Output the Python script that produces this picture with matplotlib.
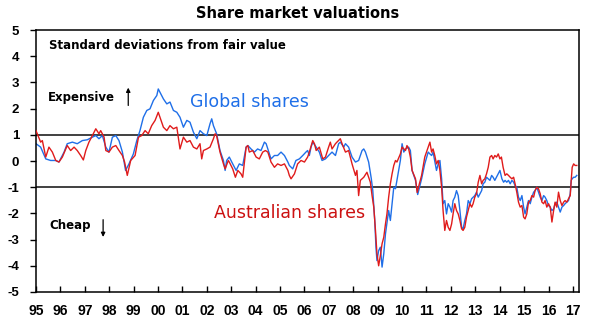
import numpy as np
import matplotlib
matplotlib.use("Agg")
import matplotlib.pyplot as plt

# valuation readings (std devs from fair value), decimal year vs value
global_years = [
    1995.00, 1995.19, 1995.40, 1995.60, 1995.81, 1995.94, 1996.15, 1996.28, 1996.49, 1996.69,
    1996.90, 1997.10, 1997.31, 1997.45, 1997.58, 1997.72, 1997.86, 1997.99, 1998.13, 1998.27,
    1998.40, 1998.54, 1998.67, 1998.81, 1998.99, 1999.13, 1999.26, 1999.40, 1999.54, 1999.67,
    1999.81, 1999.95, 2000.01, 2000.15, 2000.22, 2000.36, 2000.49, 2000.63, 2000.77, 2000.90,
    2001.04, 2001.18, 2001.31, 2001.45, 2001.59, 2001.72, 2001.86, 2002.00, 2002.13, 2002.20,
    2002.27, 2002.40, 2002.54, 2002.68, 2002.75, 2002.81, 2002.92, 2003.06, 2003.20, 2003.33,
    2003.47, 2003.61, 2003.68, 2003.81, 2003.95, 2004.08, 2004.22, 2004.36, 2004.43, 2004.50,
    2004.63, 2004.77, 2004.90, 2005.04, 2005.18, 2005.32, 2005.38, 2005.52, 2005.65, 2005.79,
    2005.93, 2006.06, 2006.13, 2006.20, 2006.27, 2006.34, 2006.48, 2006.61, 2006.72, 2006.86,
    2006.99, 2007.13, 2007.27, 2007.40, 2007.47, 2007.61, 2007.68, 2007.81, 2007.95, 2008.09,
    2008.22, 2008.36, 2008.43, 2008.50, 2008.63, 2008.74, 2008.80, 2008.88, 2008.93, 2008.97,
    2009.04, 2009.11, 2009.18, 2009.25, 2009.32, 2009.45, 2009.52, 2009.59, 2009.66, 2009.73,
    2009.79, 2009.86, 2009.93, 2010.00, 2010.07, 2010.14, 2010.27, 2010.34, 2010.41, 2010.55,
    2010.64, 2010.70, 2010.80, 2010.93, 2011.07, 2011.14, 2011.21, 2011.27, 2011.41, 2011.48,
    2011.55, 2011.62, 2011.68, 2011.75, 2011.82, 2011.89, 2011.96, 2012.03, 2012.09, 2012.16,
    2012.23, 2012.30, 2012.37, 2012.44, 2012.50, 2012.57, 2012.64, 2012.71, 2012.78, 2012.85,
    2012.98, 2013.05, 2013.12, 2013.26, 2013.32, 2013.39, 2013.46, 2013.53, 2013.60, 2013.67,
    2013.73, 2013.80, 2013.94, 2014.01, 2014.09, 2014.16, 2014.22, 2014.29, 2014.36, 2014.43,
    2014.50, 2014.57, 2014.63, 2014.70, 2014.77, 2014.84, 2014.91, 2014.98, 2015.04, 2015.11,
    2015.18, 2015.25, 2015.32, 2015.39, 2015.45, 2015.52, 2015.59, 2015.66, 2015.73, 2015.80,
    2015.86, 2015.93, 2016.00, 2016.07, 2016.14, 2016.21, 2016.27, 2016.34, 2016.41, 2016.48,
    2016.55, 2016.62, 2016.68, 2016.75, 2016.82, 2016.89, 2016.93, 2016.97, 2017.03, 2017.09,
    2017.16,
]
global_vals = [
    0.66, 0.53, 0.08, 0.02, 0.02, -0.04, 0.34, 0.66, 0.72, 0.66,
    0.78, 0.81, 0.91, 0.97, 0.85, 0.97, 0.53, 0.34, 0.91, 0.97,
    0.78, 0.34, -0.36, -0.11, 0.27, 0.78, 1.16, 1.67, 1.93, 1.99,
    2.31, 2.50, 2.75, 2.50, 2.37, 2.18, 2.25, 1.93, 1.86, 1.67,
    1.29, 1.55, 1.48, 1.10, 0.85, 1.16, 1.04, 0.97, 1.42, 1.61,
    1.35, 1.04, 0.40, 0.02, -0.36, 0.02, 0.15, -0.11, -0.36, -0.11,
    -0.17, 0.53, 0.59, 0.46, 0.34, 0.46, 0.40, 0.72, 0.66, 0.46,
    0.08, 0.21, 0.21, 0.34, 0.21, -0.04, -0.17, -0.30, 0.02, 0.08,
    0.21, 0.34, 0.40, 0.21, 0.53, 0.72, 0.53, 0.34, 0.02, 0.08,
    0.21, 0.34, 0.21, 0.66, 0.72, 0.53, 0.66, 0.53, 0.15, -0.04,
    0.02, 0.40, 0.46, 0.34, -0.04, -0.68, -1.13, -2.27, -3.29, -3.80,
    -3.42, -3.29, -4.05, -3.54, -2.78, -1.89, -2.27, -1.63, -1.00, -1.06,
    -0.74, -0.36, 0.02, 0.66, 0.34, 0.46, 0.53, 0.40, -0.36, -0.74,
    -1.28, -1.05, -0.68, -0.11, 0.34, 0.27, 0.21, 0.34, -0.36, -0.11,
    0.02, -0.68, -1.63, -1.51, -2.02, -1.63, -1.76, -1.95, -1.51, -1.38,
    -1.13, -1.32, -1.89, -2.53, -2.59, -2.27, -2.02, -1.51, -1.63, -1.44,
    -1.32, -1.19, -1.38, -1.13, -0.87, -0.81, -0.62, -0.68, -0.74, -0.55,
    -0.62, -0.74, -0.49, -0.36, -0.68, -0.81, -0.74, -0.81, -0.74, -0.87,
    -0.74, -0.81, -0.94, -1.00, -1.38, -1.51, -1.32, -1.76, -2.02, -1.76,
    -1.51, -1.63, -1.38, -1.19, -1.13, -1.00, -1.19, -1.38, -1.51, -1.32,
    -1.38, -1.51, -1.70, -1.76, -1.89, -1.83, -1.63, -1.57, -1.76, -1.95,
    -1.76, -1.70, -1.63, -1.57, -1.51, -1.25, -0.74, -0.68, -0.62, -0.62,
    -0.55,
]

aus_years = [
    1995.00, 1995.19, 1995.26, 1995.40, 1995.53, 1995.67, 1995.81, 1995.94, 1996.08, 1996.28,
    1996.42, 1996.56, 1996.69, 1996.83, 1996.94, 1997.04, 1997.17, 1997.31, 1997.45, 1997.58,
    1997.65, 1997.79, 1997.86, 1997.99, 1998.13, 1998.27, 1998.40, 1998.54, 1998.63, 1998.74,
    1998.88, 1999.06, 1999.20, 1999.33, 1999.47, 1999.60, 1999.74, 1999.88, 2000.01, 2000.08,
    2000.22, 2000.36, 2000.49, 2000.63, 2000.77, 2000.90, 2001.04, 2001.18, 2001.31, 2001.45,
    2001.59, 2001.72, 2001.79, 2001.86, 2002.00, 2002.13, 2002.27, 2002.34, 2002.40, 2002.54,
    2002.68, 2002.75, 2002.88, 2002.92, 2003.06, 2003.17, 2003.27, 2003.40, 2003.47, 2003.61,
    2003.68, 2003.74, 2003.88, 2004.02, 2004.15, 2004.29, 2004.40, 2004.50, 2004.63, 2004.77,
    2004.90, 2005.04, 2005.18, 2005.32, 2005.38, 2005.45, 2005.59, 2005.72, 2005.86, 2006.00,
    2006.13, 2006.20, 2006.34, 2006.41, 2006.48, 2006.61, 2006.75, 2006.86, 2006.99, 2007.06,
    2007.13, 2007.27, 2007.33, 2007.47, 2007.54, 2007.68, 2007.81, 2007.95, 2008.09, 2008.15,
    2008.22, 2008.29, 2008.43, 2008.56, 2008.70, 2008.77, 2008.84, 2008.91, 2008.97, 2009.04,
    2009.11, 2009.18, 2009.25, 2009.32, 2009.38, 2009.45, 2009.52, 2009.59, 2009.66, 2009.73,
    2009.79, 2009.93, 2010.00, 2010.14, 2010.20, 2010.27, 2010.34, 2010.41, 2010.55, 2010.62,
    2010.70, 2010.80, 2010.93, 2011.07, 2011.14, 2011.21, 2011.27, 2011.34, 2011.41, 2011.48,
    2011.55, 2011.62, 2011.68, 2011.75, 2011.82, 2011.89, 2011.96, 2012.03, 2012.09, 2012.16,
    2012.23, 2012.30, 2012.37, 2012.44, 2012.50, 2012.57, 2012.64, 2012.71, 2012.78, 2012.85,
    2012.91, 2012.98, 2013.05, 2013.12, 2013.19, 2013.26, 2013.32, 2013.39, 2013.46, 2013.53,
    2013.60, 2013.67, 2013.73, 2013.80, 2013.87, 2013.94, 2014.01, 2014.07, 2014.14, 2014.22,
    2014.29, 2014.36, 2014.43, 2014.50, 2014.57, 2014.63, 2014.70, 2014.77, 2014.84, 2014.91,
    2014.98, 2015.04, 2015.11, 2015.18, 2015.25, 2015.32, 2015.39, 2015.45, 2015.52, 2015.59,
    2015.66, 2015.73, 2015.80, 2015.86, 2015.93, 2016.00, 2016.07, 2016.14, 2016.21, 2016.27,
    2016.34, 2016.41, 2016.48, 2016.55, 2016.62, 2016.68, 2016.75, 2016.82, 2016.89, 2016.93,
    2016.97, 2017.03, 2017.09, 2017.16,
]
aus_vals = [
    1.16, 0.72, 0.78, 0.15, 0.53, 0.34, 0.02, -0.04, 0.15, 0.59,
    0.40, 0.53, 0.40, 0.21, 0.04, 0.40, 0.72, 0.97, 1.23, 1.04,
    1.16, 0.91, 0.40, 0.34, 0.53, 0.59, 0.40, 0.21, -0.04, -0.55,
    0.02, 0.21, 0.91, 0.97, 1.16, 1.04, 1.35, 1.55, 1.86, 1.67,
    1.29, 1.16, 1.35, 1.23, 1.29, 0.46, 0.91, 0.72, 0.78, 0.53,
    0.46, 0.66, 0.08, 0.40, 0.46, 0.53, 0.85, 1.04, 0.97, 0.34,
    -0.11, -0.30, 0.02, -0.04, -0.30, -0.62, -0.36, -0.49, -0.62, 0.53,
    0.59, 0.34, 0.40, 0.15, 0.08, 0.34, 0.40, 0.34, -0.04, -0.24,
    -0.11, -0.17, -0.11, -0.36, -0.55, -0.68, -0.49, -0.11, 0.02, -0.04,
    0.15, 0.34, 0.78, 0.66, 0.40, 0.53, 0.08, 0.15, 0.53, 0.72,
    0.46, 0.66, 0.72, 0.85, 0.66, 0.34, 0.40, -0.11, -0.55, -0.36,
    -1.32, -0.74, -0.62, -0.43, -0.81, -1.32, -1.76, -2.65, -3.54, -4.00,
    -3.61, -3.16, -2.91, -2.40, -2.02, -1.38, -0.87, -0.49, -0.17, 0.02,
    -0.04, 0.27, 0.53, 0.40, 0.59, 0.46, 0.15, -0.36, -0.68, -1.20,
    -0.90, -0.55, 0.15, 0.53, 0.72, 0.34, 0.46, 0.21, -0.11, 0.02,
    -0.36, -1.00, -1.89, -2.65, -2.27, -2.53, -2.65, -2.40, -2.02, -1.63,
    -1.89, -2.02, -2.27, -2.59, -2.65, -2.53, -2.14, -1.89, -1.63, -1.76,
    -1.63, -1.38, -1.25, -0.81, -0.55, -0.87, -0.74, -0.68, -0.49, -0.24,
    0.15, 0.21, 0.08, 0.21, 0.15, 0.27, 0.08, 0.15, -0.24, -0.55,
    -0.49, -0.55, -0.62, -0.68, -0.62, -0.87, -1.19, -1.57, -1.76, -1.70,
    -2.14, -2.21, -2.02, -1.57, -1.51, -1.32, -1.38, -1.13, -1.00, -1.06,
    -1.25, -1.57, -1.63, -1.51, -1.76, -1.63, -1.76, -2.33, -1.89, -1.57,
    -1.76, -1.19, -1.51, -1.70, -1.57, -1.51, -1.57, -1.44, -1.32, -0.74,
    -0.24, -0.11, -0.17, -0.17,
]

year_ticks = list(range(1995, 2018))
year_labels = ["%02d" % (y % 100) for y in year_ticks]
y_ticks = list(range(-5, 6))

blue = "#1f6fe8"
red = "#e01b1b"
tick_font = ["Liberation Sans", "DejaVu Sans"]

fig = plt.figure(figsize=(5.96, 3.22), dpi=100)
ax = fig.add_axes([0.0604, 0.0932, 0.9111, 0.8136])

ax.axhline(1, color="#404040", lw=1.4, zorder=1)
ax.axhline(-1, color="#404040", lw=1.4, zorder=1)
ax.plot(global_years, global_vals, color=blue, lw=1.0, zorder=2)
ax.plot(aus_years, aus_vals, color=red, lw=1.0, zorder=3)

ax.set_xlim(1995, 2017.25)
ax.set_ylim(-5, 5)
ax.set_xticks(year_ticks)
ax.set_xticklabels(year_labels, fontfamily=tick_font, fontweight="bold", fontsize=10)
ax.set_yticks(y_ticks)
ax.set_yticklabels([str(v) for v in y_ticks], fontfamily=tick_font,
                   fontweight="bold", fontsize=9.5)
ax.tick_params(axis="x", direction="in", length=4, width=1, pad=9)
ax.tick_params(axis="y", direction="out", length=4, width=1, pad=8)
for side in ax.spines.values():
    side.set_linewidth(1.1)

# annotations inside the plot
note = dict(fontsize=8.5, fontweight="bold", va="center", ha="left")
ax.text(1995.53, 4.41, "Standard deviations from fair value", **note)
ax.text(1995.49, 2.42, "Expensive", **note)
ax.text(1995.53, -2.46, "Cheap", **note)
ax.annotate("", xy=(1998.78, 2.8), xytext=(1998.78, 2.12),
            arrowprops=dict(arrowstyle="-|>", lw=0.9, color="black",
                            mutation_scale=6, shrinkA=0, shrinkB=0))
ax.annotate("", xy=(1997.75, -2.9), xytext=(1997.75, -2.24),
            arrowprops=dict(arrowstyle="-|>", lw=0.9, color="black",
                            mutation_scale=6, shrinkA=0, shrinkB=0))

ax.text(2001.31, 2.27, "Global shares", color=blue, fontsize=12.5,
        va="center", ha="left")
ax.text(2002.30, -2.0, "Australian shares", color="#cc1111", fontsize=12.5,
        va="center", ha="left")

fig.text(0.5, 0.958, "Share market valuations", ha="center", va="center",
         fontsize=10.5, fontweight="bold")

fig.savefig("out.png", dpi=100)
